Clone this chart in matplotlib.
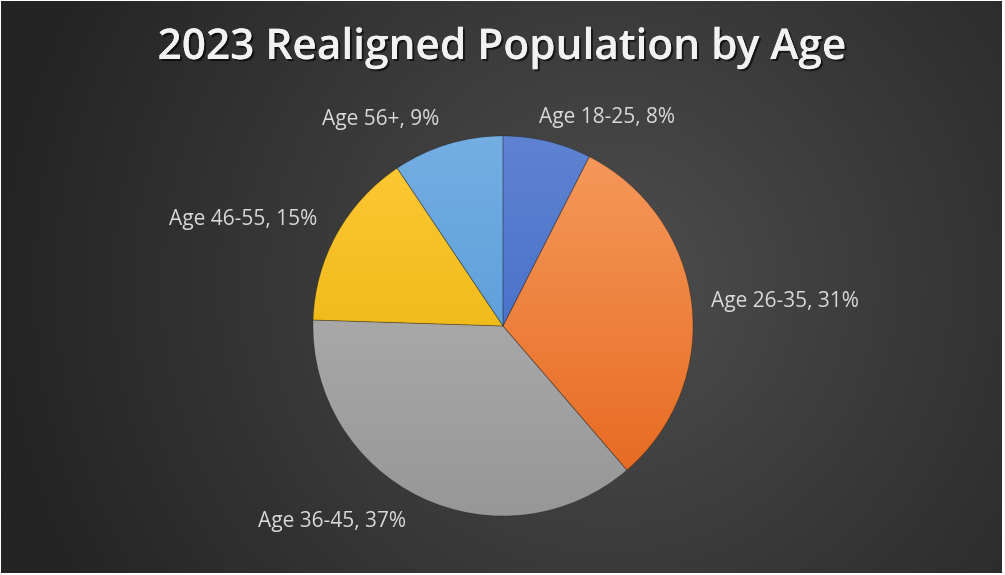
import numpy as np
import matplotlib
matplotlib.use('Agg')
import matplotlib.pyplot as plt
import matplotlib.patheffects as pe
from matplotlib.colors import to_rgb

# data
labels = ['Age 18-25', 'Age 26-35', 'Age 36-45', 'Age 46-55', 'Age 56+']
shares = [7.5, 31.2, 36.8, 15.1, 9.4]
title = '2023 Realigned Population by Age'

# slice colors: light (top) -> dark (bottom)
top_colors = ['#5f83d2', '#f69b5e', '#b8b8b8', '#ffca36', '#74aee2']
bottom_colors = ['#3562c2', '#e5651a', '#979797', '#e2ac00', '#4b92d5']

# label anchors (centre of text) in pixel units, origin bottom-left
label_pos = [(607, 458), (785, 274), (332, 53), (243, 355), (381, 456)]

W, H = 1005, 575
fig = plt.figure(figsize=(W / 100, H / 100), dpi=100, facecolor='white')
ax = fig.add_axes([0, 0, 1, 1])
ax.set_xlim(0, W)
ax.set_ylim(0, H)
ax.set_aspect('equal')
ax.axis('off')

# radial background
yy, xx = np.mgrid[0:H, 0:W]
d = np.hypot(xx - 610, (H - yy) - 290) / 620
d = np.clip(d, 0, 1)
inner = np.array(to_rgb('#505050'))
outer = np.array(to_rgb('#242424'))
bg = inner + (outer - inner) * d[..., None] ** 0.9
ax.imshow(bg, extent=(1, W - 3, 2, H - 1), origin='upper', zorder=0)

cx, cy, r = 503, 249, 190
wedges, _ = ax.pie(shares, startangle=90, counterclock=False, center=(cx, cy),
                   radius=r, frame=True,
                   wedgeprops=dict(linewidth=0.6, edgecolor=(0, 0, 0, 0.25)))
ax.set_xlim(0, W)
ax.set_ylim(0, H)
ax.axis('off')

for w, c1, c2 in zip(wedges, top_colors, bottom_colors):
    c1, c2 = np.array(to_rgb(c1)), np.array(to_rgb(c2))
    t = np.linspace(0, 1, 256)[:, None]
    grad = (c1 + (c2 - c1) * t)[:, None, :]
    w.set_facecolor('none')
    im = ax.imshow(grad, extent=(cx - r, cx + r, cy - r, cy + r),
                   origin='upper', aspect='auto', zorder=1)
    im.set_clip_path(w)
    w.set_zorder(2)

total = sum(shares)
for lab, v, (x, y) in zip(labels, shares, label_pos):
    ax.text(x, y, f'{lab}, {round(v / total * 100):.0f}%', ha='center', va='center',
            fontsize=15, color='#d9d9d9', family='Open Sans', zorder=3)

ax.text(502, H - 48, title, ha='center', va='center', fontsize=30.5,
        fontweight='semibold', color='#f2f2f2', family='Open Sans', zorder=3,
        path_effects=[pe.withSimplePatchShadow(offset=(1.5, -1.5),
                                               shadow_rgbFace='black', alpha=0.6),
                      pe.Normal()])

fig.savefig('out.png', dpi=100, facecolor='white')
